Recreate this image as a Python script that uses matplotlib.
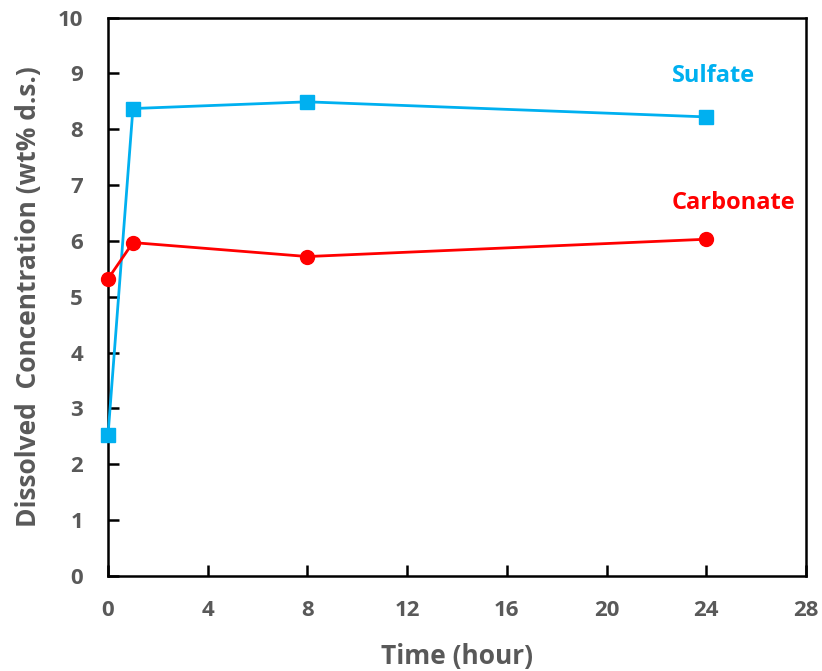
import matplotlib
matplotlib.use("Agg")
import matplotlib.pyplot as plt

time_sulfate = [0, 1, 8, 24]
sulfate = [2.52, 8.37, 8.49, 8.22]
time_carbonate = [0, 1, 8, 24]
carbonate = [5.32, 5.97, 5.72, 6.03]
xticks = [0, 4, 8, 12, 16, 20, 24, 28]
yticks = list(range(0, 11))

plt.rcParams['font.family'] = ['Open Sans', 'DejaVu Sans']
gray = '#595959'

fig = plt.figure(figsize=(8.22, 6.71), dpi=100)
ax = fig.add_axes([108/822, 1 - 576/671, (806-108)/822, (576-17.5)/671])

ax.plot(time_sulfate, sulfate, color='#00B0F0', marker='s', markersize=10, lw=2, zorder=3, clip_on=False)
ax.plot(time_carbonate, carbonate, color='#FF0000', marker='o', markersize=10, lw=2, zorder=3, clip_on=False)

ax.set_xlim(0, 28)
ax.set_ylim(0, 10)
ax.set_xticks(xticks)
ax.set_yticks(yticks)
for s in ax.spines.values():
    s.set_linewidth(1.8)
    s.set_color('black')
ax.tick_params(direction='in', length=8, width=1.8, labelsize=16, labelcolor=gray)
ax.tick_params(axis='y', pad=18)
ax.tick_params(axis='x', pad=17)
for lab in ax.get_xticklabels() + ax.get_yticklabels():
    lab.set_fontweight('bold')

ax.set_xlabel('Time (hour)', fontsize=19, fontweight='bold', color=gray, labelpad=16)
ax.set_ylabel('Dissolved  Concentration (wt% d.s.)', fontsize=19, fontweight='bold', color=gray, labelpad=11)

ax.text(24.3, 8.95, 'Sulfate', color='#00B0F0', fontsize=17, fontweight='bold', ha='center', va='center')
ax.text(25.1, 6.68, 'Carbonate', color='#FF0000', fontsize=17, fontweight='bold', ha='center', va='center')

fig.savefig('out.png', dpi=100)
